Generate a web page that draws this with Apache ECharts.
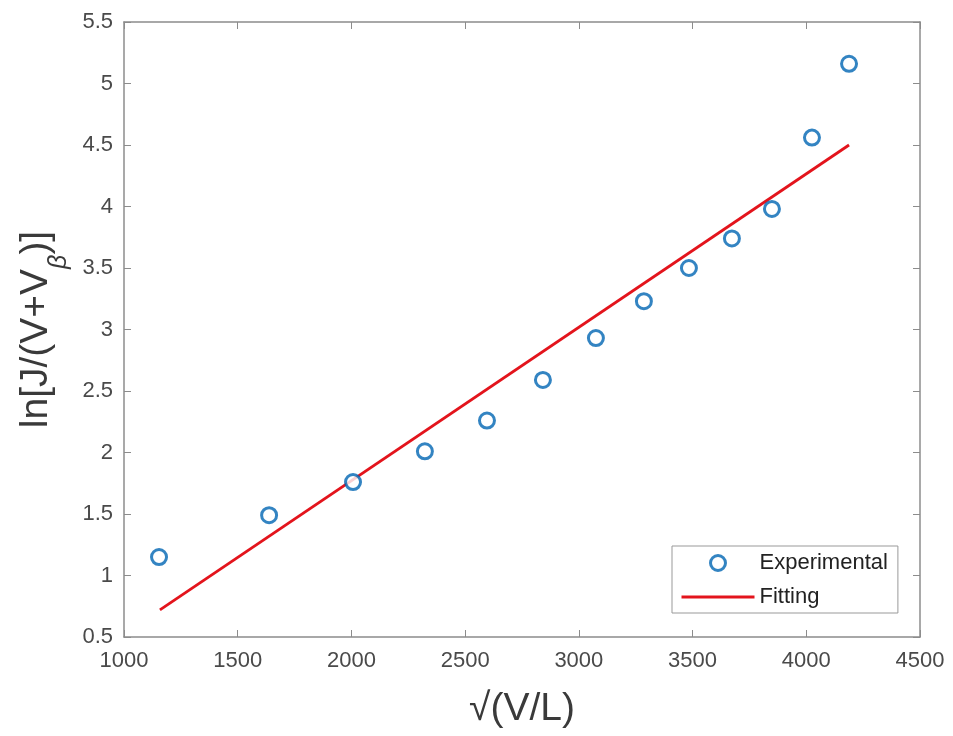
<!DOCTYPE html>
<html>
<head>
<meta charset="utf-8">
<script src="https://cdn.jsdelivr.net/npm/echarts@6/dist/echarts.min.js"></script>
<style>html,body{margin:0;padding:0;background:#fff}#c{width:953px;height:736px}</style>
</head>
<body>
<div id="c"></div>
<script>
// Data
const expX = [1154, 1638, 2007, 2323, 2596, 2842, 3075, 3286, 3484, 3673, 3849, 4025, 4188];
const expY = [1.15, 1.49, 1.76, 2.01, 2.26, 2.59, 2.93, 3.23, 3.50, 3.74, 3.98, 4.56, 5.16];
const fitX = [1158, 4188];
const fitY = [0.72, 4.50];
const seriesNames = ['Experimental', 'Fitting'];
const xTicks = {min: 1000, max: 4500, interval: 500};
const yTicks = {min: 0.5, max: 5.5, interval: 0.5};

const font = 'Liberation Sans, Arial, Helvetica, sans-serif';
const axisCol = '#8c8c8c';
const labelCol = '#4a4a4a';
const nameCol = '#3a3a3a';

const chart = echarts.init(document.getElementById('c'), null, {renderer: 'canvas'});
const axisCommon = {
  axisLine: {show: true, lineStyle: {color: axisCol, width: 1.5}},
  axisTick: {show: true, inside: true, length: 7, lineStyle: {color: axisCol, width: 1}},
  splitLine: {show: false}
};
chart.setOption({
  animation: false,
  backgroundColor: '#fff',
  grid: {left: 124, right: 33, top: 22, bottom: 99, containLabel: false},
  xAxis: [
    Object.assign({
      type: 'value', position: 'bottom', min: xTicks.min, max: xTicks.max, interval: xTicks.interval,
      axisLabel: {color: labelCol, fontSize: 22, fontFamily: font, margin: 13, formatter: v => String(v)},
      name: '\u221A(V/L)', nameLocation: 'middle', nameGap: 53,
      nameTextStyle: {color: nameCol, fontSize: 39, fontFamily: font}
    }, axisCommon),
    Object.assign({
      type: 'value', position: 'top', min: xTicks.min, max: xTicks.max, interval: xTicks.interval,
      axisLabel: {show: false}
    }, axisCommon)
  ],
  yAxis: [
    Object.assign({
      type: 'value', position: 'left', min: yTicks.min, max: yTicks.max, interval: yTicks.interval,
      axisLabel: {color: labelCol, fontSize: 22, fontFamily: font, margin: 11},
      name: '{a|ln[J/(V+V}{b|\u03B2}{a|)]}', nameLocation: 'middle', nameGap: 50, nameRotate: 90,
      nameTextStyle: {
        color: nameCol, fontFamily: font,
        rich: {
          a: {fontSize: 39, fontFamily: font, color: nameCol},
          b: {fontSize: 25, fontFamily: font, fontStyle: 'italic', color: nameCol, verticalAlign: 'bottom', padding: [46, 0, 0, 0]}
        }
      }
    }, axisCommon),
    Object.assign({
      type: 'value', position: 'right', min: yTicks.min, max: yTicks.max, interval: yTicks.interval,
      axisLabel: {show: false}
    }, axisCommon)
  ],
  legend: {
    left: 672, top: 546, orient: 'vertical',
    data: [
      {name: seriesNames[0], icon: 'circle', itemStyle: {borderWidth: 3, borderColor: '#0065b3', color: '#fff'}},
      {name: seriesNames[1], itemStyle: {opacity: 0}, lineStyle: {width: 3}}
    ],
    itemWidth: 73, itemHeight: 15, itemGap: 12, itemTextGap: 6,
    padding: [6, 10, 5, 8],
    borderColor: '#999', borderWidth: 1, backgroundColor: '#fff',
    textStyle: {fontSize: 22, fontFamily: font, color: '#222'}
  },
  series: [
    {
      name: seriesNames[1], type: 'line', xAxisIndex: 0, yAxisIndex: 0,
      data: fitX.map((x, i) => [x, fitY[i]]),
      showSymbol: false, symbol: 'none',
      lineStyle: {color: '#e3141c', width: 2.8},
      itemStyle: {color: '#e3141c'}, z: 2
    },
    {
      name: seriesNames[0], type: 'scatter', xAxisIndex: 0, yAxisIndex: 0,
      data: expX.map((x, i) => [x, expY[i]]),
      symbol: 'circle', symbolSize: 15,
      itemStyle: {color: '#fff', borderColor: '#0065b3', borderWidth: 3}, z: 3
    }
  ]
});
</script>
</body>
</html>
